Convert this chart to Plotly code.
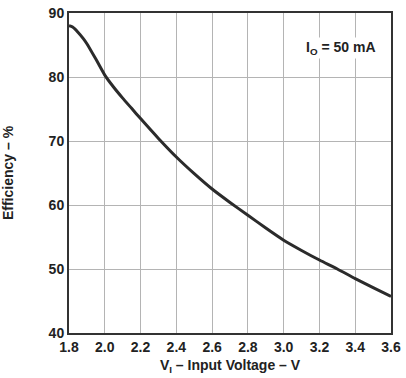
import plotly.graph_objects as go

voltage = [1.80, 1.82, 1.85, 1.88, 1.90, 1.95, 2.00, 2.05, 2.10, 2.15, 2.20, 2.30, 2.40,
           2.50, 2.60, 2.70, 2.80, 2.90, 3.00, 3.10, 3.20, 3.30, 3.40, 3.50, 3.60]
efficiency = [88.0, 87.8, 87.0, 86.0, 85.2, 82.8, 80.3, 78.4, 76.7, 75.1, 73.5, 70.4, 67.5,
              64.9, 62.5, 60.4, 58.4, 56.4, 54.5, 52.9, 51.4, 50.0, 48.5, 47.1, 45.7]
x_ticks = [1.8, 2.0, 2.2, 2.4, 2.6, 2.8, 3.0, 3.2, 3.4, 3.6]
x_tick_labels = ["1.8", "2.0", "2.2", "2.4", "2.6", "2.8", "3.0", "3.2", "3.4", "3.6"]
y_ticks = [40, 50, 60, 70, 80, 90]

FONT = "Liberation Sans, Arial, sans-serif"

fig = go.Figure()
fig.add_trace(go.Scatter(x=voltage, y=efficiency, mode="lines",
                         line=dict(color="#2b2b2b", width=3, shape="spline", smoothing=0.6),
                         showlegend=False))

fig.update_layout(
    width=406, height=378,
    margin=dict(l=68, r=9, t=5, b=45),
    paper_bgcolor="white", plot_bgcolor="white",
    font=dict(family=FONT, size=14, color="#222", weight="bold"),
    xaxis=dict(range=[1.8, 3.6], tickvals=x_ticks, ticktext=x_tick_labels,
               showgrid=True, gridcolor="#b4b4b4", gridwidth=1,
               showline=True, linecolor="#333", linewidth=2, mirror=True,
               ticks="", zeroline=False, ticklabeloverflow="allow",
               title=dict(text="V<sub>I</sub> – Input Voltage – V", standoff=6,
                          font=dict(family=FONT, size=14, weight="bold"))),
    yaxis=dict(range=[40, 90], tickvals=y_ticks,
               showgrid=True, gridcolor="#b4b4b4", gridwidth=1,
               showline=True, linecolor="#333", linewidth=2, mirror=True,
               ticks="", zeroline=False, ticklabeloverflow="allow",
               title=dict(text="Efficiency – %", standoff=34,
                          font=dict(family=FONT, size=14, weight="bold"))),
    annotations=[dict(x=3.32, y=84.6, xref="x", yref="y",
                      text="I<sub>O</sub> = 50 mA", showarrow=False,
                      bgcolor="white", font=dict(family=FONT, size=14, weight="bold"))],
)

fig.write_html("out.html", config={"displayModeBar": False},
               post_script="document.body.style.margin='0';document.body.style.overflow='hidden';")
